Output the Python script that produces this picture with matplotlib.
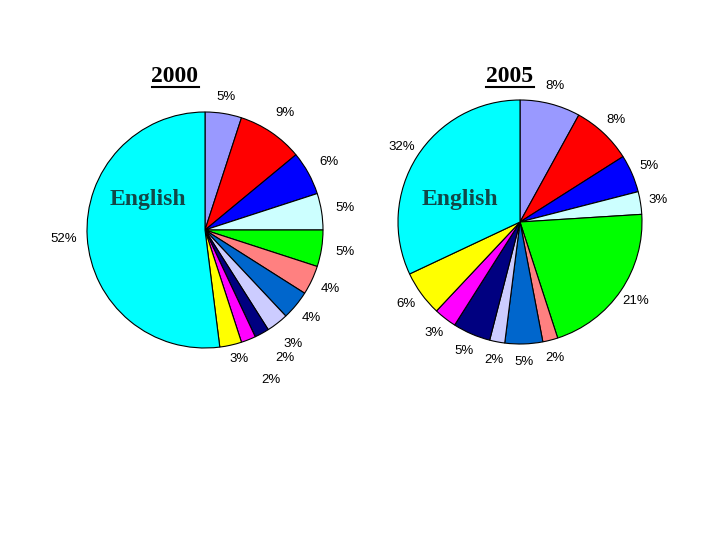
import matplotlib
matplotlib.use("Agg")
import matplotlib.pyplot as plt
import numpy as np

# slices clockwise from 12 o'clock, same language order in both years
colors = ["#9999ff", "#ff0000", "#0000ff", "#ccffff", "#00ff00", "#ff8080",
          "#0066cc", "#ccccff", "#000080", "#ff00ff", "#ffff00", "#00ffff"]
share_2000 = [5, 9, 6, 5, 5, 4, 4, 3, 2, 2, 3, 52]
share_2005 = [8, 8, 5, 3, 21, 2, 5, 2, 5, 3, 6, 32]
years = ["2000", "2005"]

fig = plt.figure(figsize=(7.2, 5.4), dpi=100)
ax = fig.add_axes([0, 0, 1, 1])

H = 540


def draw(values, cx, cy, r, label_dist, label_shift):
    wedges, _ = ax.pie(values, colors=colors, startangle=90, counterclock=False,
                       center=(cx, H - cy), radius=r,
                       wedgeprops=dict(edgecolor="black", linewidth=0.8))
    for w, v, d, s in zip(wedges, values, label_dist, label_shift):
        ang = np.deg2rad((w.theta1 + w.theta2) / 2 + s)
        x = cx + d * r * np.cos(ang)
        y = H - cy + d * r * np.sin(ang)
        ax.text(x, y, f"{v}%", ha="center", va="center", fontsize=9.5,
                family="Liberation Sans")


draw(share_2000, 205, 230, 118,
     [1.14, 1.2, 1.2, 1.2, 1.2, 1.17, 1.17, 1.22, 1.28, 1.39, 1.13, 1.2],
     [0, 0, 0, 0, 0, 0, 0, 0, 3, 2, 2, 0])
draw(share_2005, 520, 222, 122, [1.15] * 12, [0] * 12)

titles = []
for yr, x in zip(years, [175, 510]):
    titles.append(ax.text(x, H - 77, yr, ha="center", va="center", fontsize=17,
                          fontweight="bold", family="Liberation Serif"))
for x in [148, 460]:
    ax.text(x, H - 199, "English", ha="center", va="center", fontsize=17,
            fontweight="bold", family="Liberation Serif", color="#124848")

ax.set_xlim(0, 720)
ax.set_ylim(0, 540)
ax.set_aspect("equal")
ax.axis("off")

# underline the year titles
fig.canvas.draw()
inv = ax.transData.inverted()
for t in titles:
    bb = t.get_window_extent()
    (x0, y0), (x1, _) = inv.transform([(bb.x0, bb.y0), (bb.x1, bb.y1)])
    ax.plot([x0, x1], [y0 + 1, y0 + 1], color="black", linewidth=1.5)

fig.savefig("out.png", dpi=100)
